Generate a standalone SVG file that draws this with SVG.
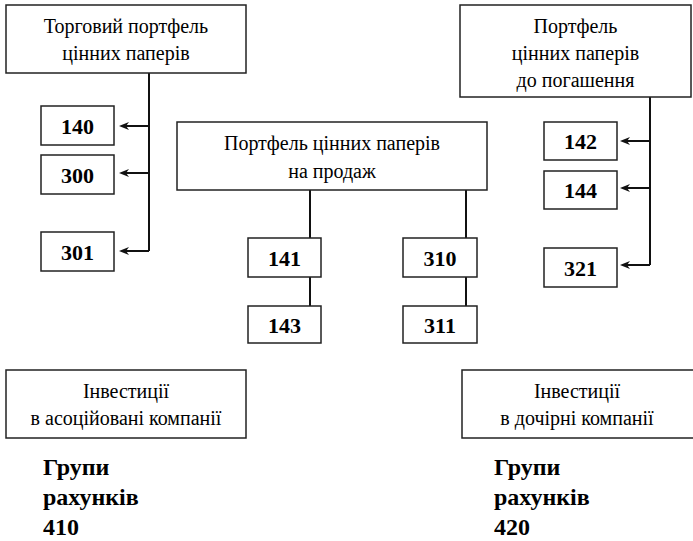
<svg xmlns="http://www.w3.org/2000/svg" width="693" height="541" viewBox="0 0 693 541">
<g id="connectors" fill="none" stroke="#111" stroke-width="2">
<path d="M149,73 V251"/>
<path d="M149,126 H122 M149,173 H122 M149,251 H122"/>
<path d="M650,97 V265"/>
<path d="M650,141 H623 M650,188 H623 M650,265 H623"/>
<path d="M310,190 V238 M310,277 V306"/>
<path d="M466,190 V238 M466,277 V306"/>
<g fill="#111" stroke="none">
<path d="M119,126 L129,122 L126,126 L129,130 Z"/>
<path d="M119,173 L129,169 L126,173 L129,177 Z"/>
<path d="M119,251 L129,247 L126,251 L129,255 Z"/>
<path d="M620,141 L630,137 L627,141 L630,145 Z"/>
<path d="M620,188 L630,184 L627,188 L630,192 Z"/>
<path d="M620,265 L630,261 L627,265 L630,269 Z"/>
</g>
</g>
<g fill="#fff" stroke="#222" stroke-width="1.5">
<rect id="trading-box" x="6" y="5" width="240" height="68"/>
<rect id="n140-box" x="41" y="106" width="73" height="39"/>
<rect id="n300-box" x="41" y="155" width="73" height="39"/>
<rect id="n301-box" x="41" y="232" width="73" height="39"/>
<rect id="maturity-box" x="460" y="5" width="231" height="92"/>
<rect id="n142-box" x="544" y="122" width="73" height="38"/>
<rect id="n144-box" x="544" y="171" width="73" height="38"/>
<rect id="n321-box" x="544" y="248" width="73" height="39"/>
<rect id="sale-box" x="177" y="122" width="310" height="68"/>
<rect id="n141-box" x="248" y="238" width="73" height="39"/>
<rect id="n143-box" x="248" y="306" width="73" height="37"/>
<rect id="n310-box" x="403" y="238" width="74" height="39"/>
<rect id="n311-box" x="403" y="306" width="74" height="37"/>
<rect id="assoc-box" x="6" y="370" width="240" height="68"/>
<rect id="subs-box" x="462" y="370" width="240" height="68"/>
</g>
<g id="trading">
<text font-family="Liberation Serif" font-size="20" x="126" y="33" text-anchor="middle">Торговий портфель</text>
<text font-family="Liberation Serif" font-size="20" x="126" y="60" text-anchor="middle">цінних паперів</text>
</g>
<g id="n140"><text font-family="Liberation Serif" font-size="22" font-weight="bold" x="77.5" y="134" text-anchor="middle">140</text></g>
<g id="n300"><text font-family="Liberation Serif" font-size="22" font-weight="bold" x="77.5" y="183" text-anchor="middle">300</text></g>
<g id="n301"><text font-family="Liberation Serif" font-size="22" font-weight="bold" x="77.5" y="260" text-anchor="middle">301</text></g>
<g id="maturity">
<text font-family="Liberation Serif" font-size="20" x="575.5" y="33" text-anchor="middle">Портфель</text>
<text font-family="Liberation Serif" font-size="20" x="575.5" y="60" text-anchor="middle">цінних паперів</text>
<text font-family="Liberation Serif" font-size="20" x="575.5" y="87" text-anchor="middle">до погашення</text>
</g>
<g id="n142"><text font-family="Liberation Serif" font-size="22" font-weight="bold" x="580.5" y="149" text-anchor="middle">142</text></g>
<g id="n144"><text font-family="Liberation Serif" font-size="22" font-weight="bold" x="580.5" y="198" text-anchor="middle">144</text></g>
<g id="n321"><text font-family="Liberation Serif" font-size="22" font-weight="bold" x="580.5" y="276" text-anchor="middle">321</text></g>
<g id="sale">
<text font-family="Liberation Serif" font-size="20" x="332" y="150" text-anchor="middle">Портфель цінних паперів</text>
<text font-family="Liberation Serif" font-size="20" x="332" y="178" text-anchor="middle">на продаж</text>
</g>
<g id="n141"><text font-family="Liberation Serif" font-size="22" font-weight="bold" x="284.5" y="266" text-anchor="middle">141</text></g>
<g id="n143"><text font-family="Liberation Serif" font-size="22" font-weight="bold" x="284.5" y="333" text-anchor="middle">143</text></g>
<g id="n310"><text font-family="Liberation Serif" font-size="22" font-weight="bold" x="440" y="266" text-anchor="middle">310</text></g>
<g id="n311"><text font-family="Liberation Serif" font-size="22" font-weight="bold" x="440" y="333" text-anchor="middle">311</text></g>
<g id="assoc">
<text font-family="Liberation Serif" font-size="20" x="126" y="398" text-anchor="middle">Інвестиції</text>
<text font-family="Liberation Serif" font-size="20" x="126" y="425" text-anchor="middle">в асоційовані компанії</text>
</g>
<g id="subs">
<text font-family="Liberation Serif" font-size="20" x="577" y="398" text-anchor="middle">Інвестиції</text>
<text font-family="Liberation Serif" font-size="20" x="577" y="425" text-anchor="middle">в дочірні компанії</text>
</g>
<g id="grp410">
<text font-family="Liberation Serif" font-size="24" font-weight="bold" x="43" y="475">Групи</text>
<text font-family="Liberation Serif" font-size="24" font-weight="bold" x="43" y="505">рахунків</text>
<text font-family="Liberation Serif" font-size="24" font-weight="bold" x="43" y="535">410</text>
</g>
<g id="grp420">
<text font-family="Liberation Serif" font-size="24" font-weight="bold" x="494" y="475">Групи</text>
<text font-family="Liberation Serif" font-size="24" font-weight="bold" x="494" y="505">рахунків</text>
<text font-family="Liberation Serif" font-size="24" font-weight="bold" x="494" y="535">420</text>
</g>
</svg>
